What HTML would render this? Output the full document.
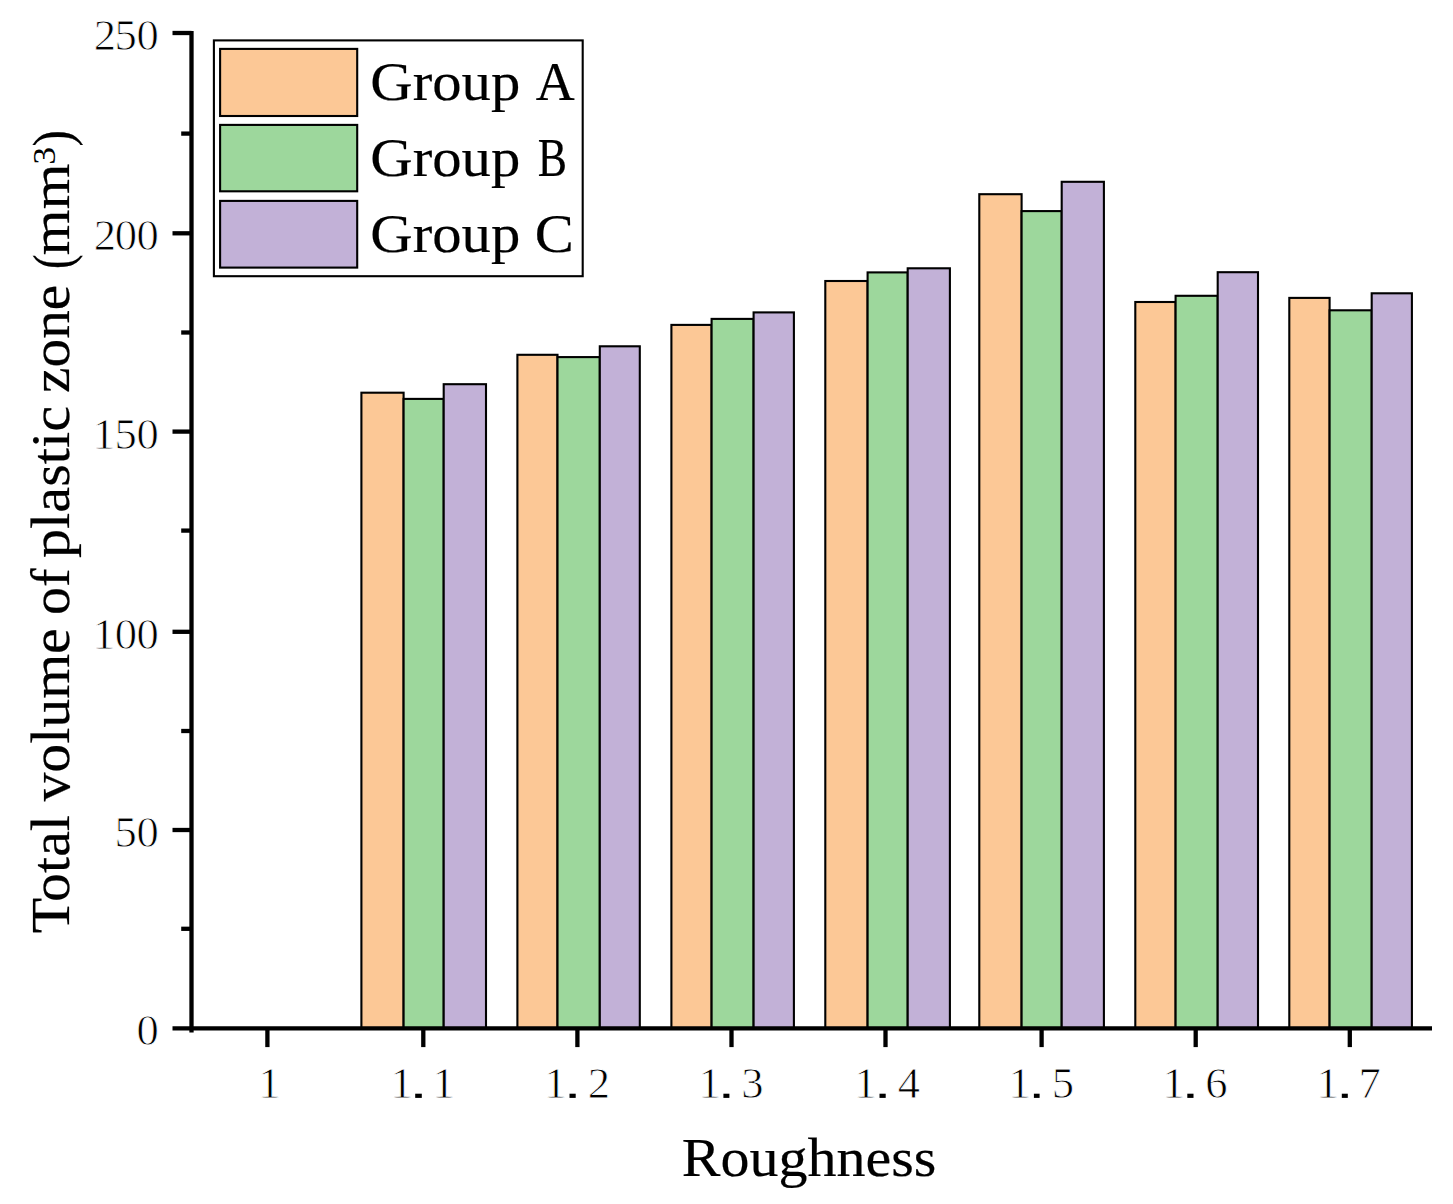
<!DOCTYPE html>
<html><head><meta charset="utf-8"><title>Total volume of plastic zone</title>
<style>html,body{margin:0;padding:0;background:#fff;}body{width:1453px;height:1204px;overflow:hidden;}svg{display:block;}text{font-family:"Liberation Serif",serif;fill:#000;}.t text{stroke:#000;stroke-width:0.2px;}.t text.s{stroke:none;}.d text{stroke:#fff;stroke-width:0.8px;}</style>
</head><body>
<svg width="1453" height="1204" viewBox="0 0 1453 1204">
<rect x="0" y="0" width="1453" height="1204" fill="#fff"/>
<g stroke="#000" stroke-width="2.1">
<rect x="361.4" y="392.7" width="42.2" height="635.6" fill="#FCC896"/>
<rect x="403.6" y="398.9" width="40.1" height="629.4" fill="#9DD79C"/>
<rect x="443.7" y="384.2" width="42.3" height="644.1" fill="#C2B1D7"/>
<rect x="517.4" y="354.8" width="40.1" height="673.5" fill="#FCC896"/>
<rect x="557.5" y="357.1" width="42.3" height="671.2" fill="#9DD79C"/>
<rect x="599.8" y="346.3" width="40.0" height="682.0" fill="#C2B1D7"/>
<rect x="671.4" y="324.9" width="40.2" height="703.4" fill="#FCC896"/>
<rect x="711.6" y="318.9" width="42.0" height="709.4" fill="#9DD79C"/>
<rect x="753.6" y="312.4" width="40.3" height="715.9" fill="#C2B1D7"/>
<rect x="825.3" y="281.0" width="42.3" height="747.3" fill="#FCC896"/>
<rect x="867.6" y="272.4" width="40.1" height="755.9" fill="#9DD79C"/>
<rect x="907.7" y="268.3" width="42.2" height="760.0" fill="#C2B1D7"/>
<rect x="979.3" y="194.2" width="42.3" height="834.1" fill="#FCC896"/>
<rect x="1021.6" y="211.1" width="40.1" height="817.2" fill="#9DD79C"/>
<rect x="1061.7" y="181.8" width="42.2" height="846.5" fill="#C2B1D7"/>
<rect x="1135.3" y="302.0" width="40.3" height="726.3" fill="#FCC896"/>
<rect x="1175.6" y="295.8" width="42.1" height="732.5" fill="#9DD79C"/>
<rect x="1217.7" y="272.2" width="40.3" height="756.1" fill="#C2B1D7"/>
<rect x="1289.3" y="297.9" width="40.3" height="730.4" fill="#FCC896"/>
<rect x="1329.6" y="310.3" width="42.1" height="718.0" fill="#9DD79C"/>
<rect x="1371.7" y="293.3" width="40.2" height="735.0" fill="#C2B1D7"/>
</g>
<g stroke="#000" stroke-width="4.3" fill="none">
<line x1="191.5" y1="30.9" x2="191.5" y2="1032.6"/>
<line x1="172.5" y1="1028.3" x2="1432" y2="1028.3"/>
<line x1="172.5" y1="33.0" x2="191.5" y2="33.0"/>
<line x1="172.5" y1="233.3" x2="191.5" y2="233.3"/>
<line x1="172.5" y1="431.6" x2="191.5" y2="431.6"/>
<line x1="172.5" y1="631.8" x2="191.5" y2="631.8"/>
<line x1="172.5" y1="830.0" x2="191.5" y2="830.0"/>
<line x1="181.2" y1="133.6" x2="191.5" y2="133.6"/>
<line x1="181.2" y1="332.5" x2="191.5" y2="332.5"/>
<line x1="181.2" y1="530.6" x2="191.5" y2="530.6"/>
<line x1="181.2" y1="731.0" x2="191.5" y2="731.0"/>
<line x1="181.2" y1="928.8" x2="191.5" y2="928.8"/>
<line x1="267.4" y1="1028.3" x2="267.4" y2="1047.1"/>
<line x1="423.3" y1="1028.3" x2="423.3" y2="1047.1"/>
<line x1="577.4" y1="1028.3" x2="577.4" y2="1047.1"/>
<line x1="731.5" y1="1028.3" x2="731.5" y2="1047.1"/>
<line x1="885.5" y1="1028.3" x2="885.5" y2="1047.1"/>
<line x1="1041.6" y1="1028.3" x2="1041.6" y2="1047.1"/>
<line x1="1195.7" y1="1028.3" x2="1195.7" y2="1047.1"/>
<line x1="1349.8" y1="1028.3" x2="1349.8" y2="1047.1"/>
</g>
<rect x="213.9" y="40.4" width="368.8" height="235.8" fill="#fff" stroke="#000" stroke-width="2.1"/>
<rect x="220.1" y="48.9" width="137.1" height="67.1" fill="#FCC896" stroke="#000" stroke-width="2.1"/>
<rect x="220.1" y="124.9" width="137.1" height="66.4" fill="#9DD79C" stroke="#000" stroke-width="2.1"/>
<rect x="220.1" y="200.9" width="137.1" height="66.7" fill="#C2B1D7" stroke="#000" stroke-width="2.1"/>
<rect x="415.2" y="1093.7" width="6.6" height="4.2" fill="#000"/>
<rect x="569.5" y="1093.7" width="6.2" height="4.2" fill="#000"/>
<rect x="723.4" y="1093.7" width="6.0" height="4.2" fill="#000"/>
<rect x="879.5" y="1093.7" width="6.2" height="4.2" fill="#000"/>
<rect x="1033.9" y="1093.7" width="5.7" height="4.2" fill="#000"/>
<rect x="1187.3" y="1093.7" width="6.2" height="4.2" fill="#000"/>
<rect x="1341.8" y="1093.7" width="6.0" height="4.2" fill="#000"/>
<g class="d">
<text transform="translate(258.15,1098.30) scale(1.0000,1)" font-size="44.6">1</text>
<text transform="translate(390.50,1098.30) scale(1.0000,1)" font-size="44.6">1</text>
<text transform="translate(432.60,1098.30) scale(1.0000,1)" font-size="44.6">1</text>
<text transform="translate(544.15,1098.30) scale(1.0000,1)" font-size="44.6">1</text>
<text transform="translate(587.70,1098.30) scale(1.0000,1)" font-size="44.6">2</text>
<text transform="translate(698.45,1098.30) scale(1.0000,1)" font-size="44.6">1</text>
<text transform="translate(741.15,1098.30) scale(1.0000,1)" font-size="44.6">3</text>
<text transform="translate(854.15,1098.30) scale(1.0000,1)" font-size="44.6">1</text>
<text transform="translate(897.65,1098.30) scale(1.0000,1)" font-size="44.6">4</text>
<text transform="translate(1008.45,1098.30) scale(1.0000,1)" font-size="44.6">1</text>
<text transform="translate(1051.70,1098.30) scale(1.0000,1)" font-size="44.6">5</text>
<text transform="translate(1162.50,1098.30) scale(1.0000,1)" font-size="44.6">1</text>
<text transform="translate(1205.35,1098.30) scale(1.0000,1)" font-size="44.6">6</text>
<text transform="translate(1316.40,1098.30) scale(1.0000,1)" font-size="44.6">1</text>
<text transform="translate(1358.55,1098.30) scale(1.0000,1)" font-size="44.6">7</text>
<text transform="translate(93.70,50.10) scale(1.0000,1)" font-size="44.6">2</text>
<text transform="translate(114.50,50.10) scale(1.0000,1)" font-size="44.6">5</text>
<text transform="translate(136.45,50.10) scale(1.0000,1)" font-size="44.6">0</text>
<text transform="translate(93.70,250.40) scale(1.0000,1)" font-size="44.6">2</text>
<text transform="translate(114.85,250.40) scale(1.0000,1)" font-size="44.6">0</text>
<text transform="translate(136.45,250.40) scale(1.0000,1)" font-size="44.6">0</text>
<text transform="translate(92.65,448.90) scale(1.0000,1)" font-size="44.6">1</text>
<text transform="translate(114.50,448.90) scale(1.0000,1)" font-size="44.6">5</text>
<text transform="translate(136.45,448.90) scale(1.0000,1)" font-size="44.6">0</text>
<text transform="translate(92.65,648.70) scale(1.0000,1)" font-size="44.6">1</text>
<text transform="translate(114.85,648.70) scale(1.0000,1)" font-size="44.6">0</text>
<text transform="translate(136.45,648.70) scale(1.0000,1)" font-size="44.6">0</text>
<text transform="translate(114.50,847.40) scale(1.0000,1)" font-size="44.6">5</text>
<text transform="translate(136.45,847.40) scale(1.0000,1)" font-size="44.6">0</text>
<text transform="translate(136.45,1045.10) scale(1.0000,1)" font-size="44.6">0</text>
</g>
<g class="t">
<text transform="translate(370.37,100.20) scale(1.0742,1)" font-size="54.6">Group</text>
<text transform="translate(535.70,100.20) scale(0.9887,1)" font-size="54.6">A</text>
<text transform="translate(370.37,175.70) scale(1.0742,1)" font-size="54.6">Group</text>
<text transform="translate(537.82,175.70) scale(0.8025,1)" font-size="54.6">B</text>
<text transform="translate(370.37,252.40) scale(1.0742,1)" font-size="54.6">Group</text>
<text transform="translate(534.67,252.40) scale(1.0735,1)" font-size="54.6">C</text>
<text transform="translate(681.79,1175.70) scale(1.0621,1)" font-size="54.6">Roughness</text>
<text transform="translate(69.20,933.31) rotate(-90) scale(1.0619,1)" font-size="54.6">Total</text>
<text transform="translate(69.20,801.60) rotate(-90) scale(1.0586,1)" font-size="54.6">volume</text>
<text transform="translate(69.20,615.05) rotate(-90) scale(1.0234,1)" font-size="54.6">of</text>
<text transform="translate(69.20,558.01) rotate(-90) scale(1.0671,1)" font-size="54.6">plastic</text>
<text transform="translate(69.20,392.90) rotate(-90) scale(1.0493,1)" font-size="54.6">zone</text>
<text transform="translate(71.20,268.98) rotate(-90) scale(0.8075,1)" font-size="54.6">(</text>
<text transform="translate(69.20,255.52) rotate(-90) scale(1.0837,1)" font-size="54.6">mm</text>
<text class="s" transform="translate(54.70,164.67) rotate(-90) scale(1.1111,1)" font-size="32">3</text>
<text transform="translate(71.20,146.43) rotate(-90) scale(0.8964,1)" font-size="54.6">)</text>
</g>
